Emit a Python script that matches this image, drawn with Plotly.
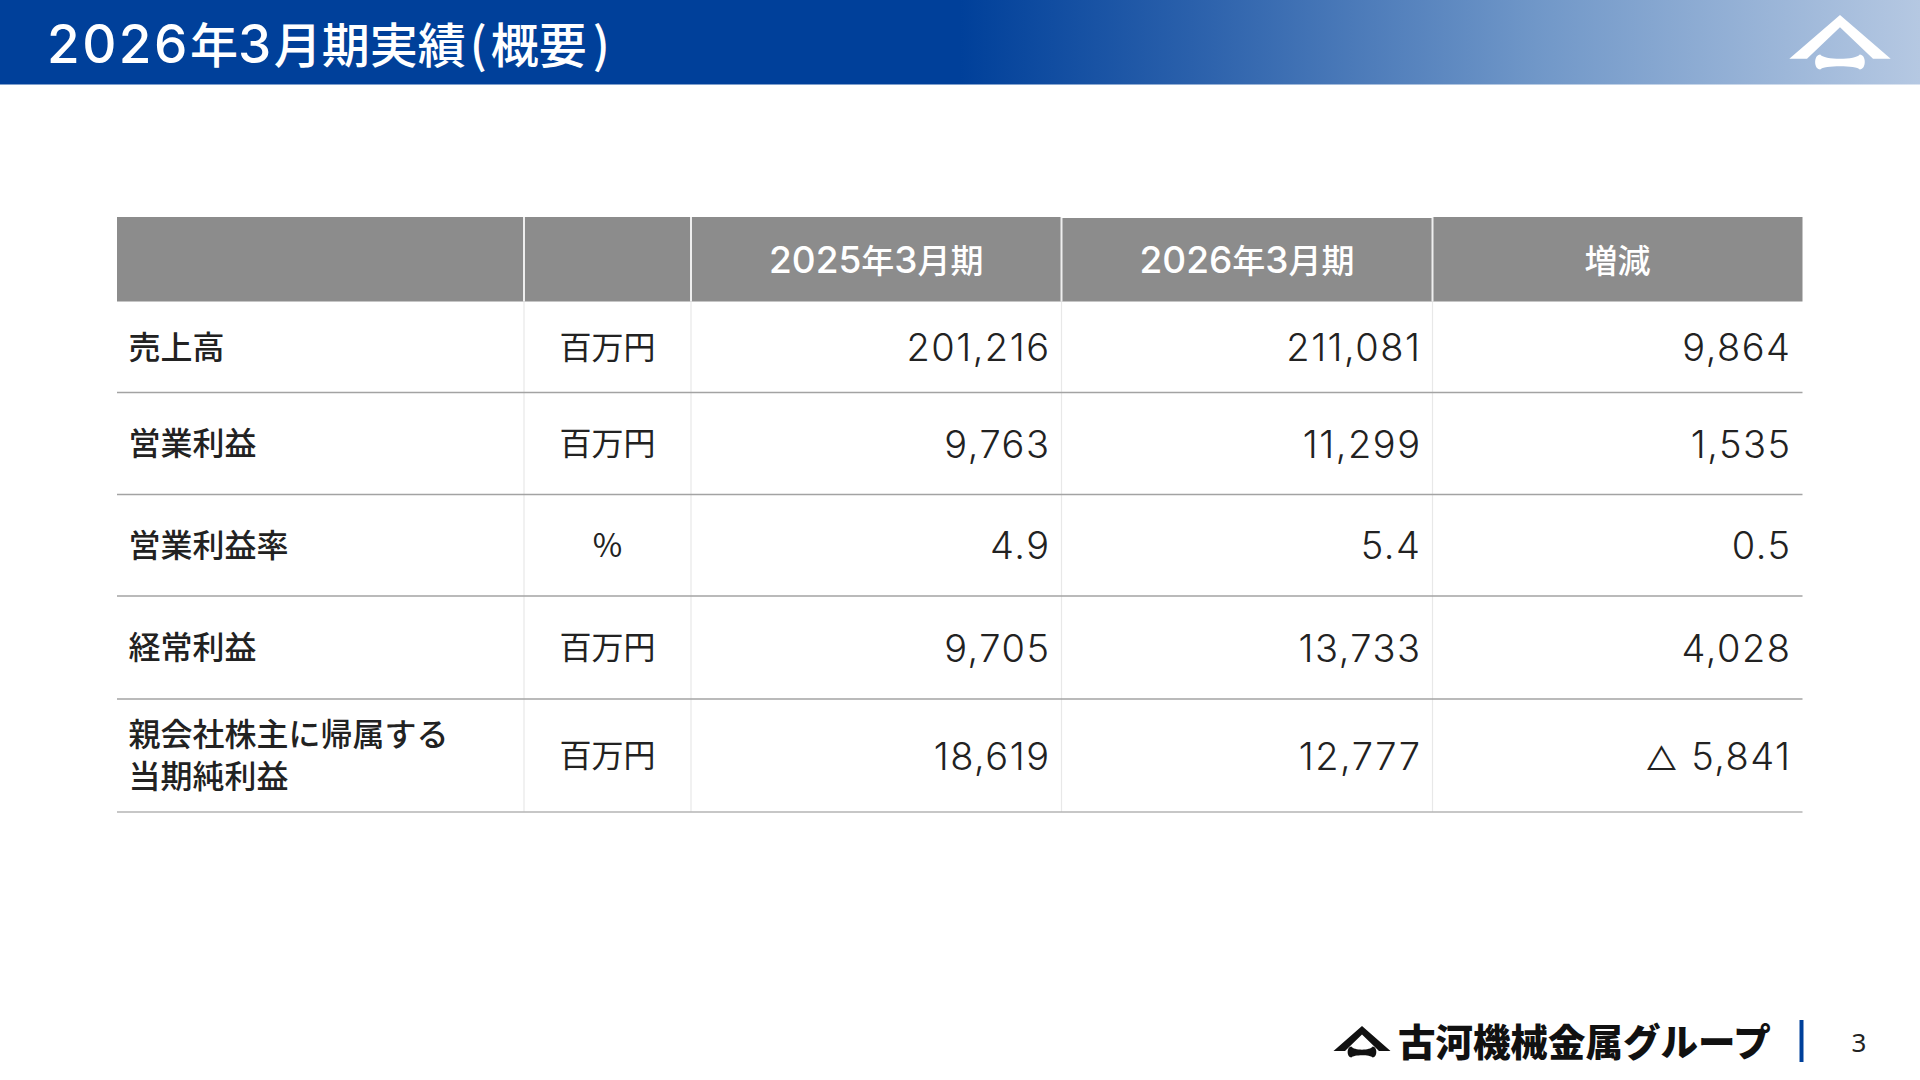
import re
import plotly.graph_objects as go

# ---- data ----
title = "2026年3月期実績(概要)"
columns = ["", "", "2025年3月期", "2026年3月期", "増減"]
items = ["売上高", "営業利益", "営業利益率", "経常利益", "親会社株主に帰属する<br>当期純利益"]
units = ["百万円", "百万円", "%", "百万円", "百万円"]
fy2025 = ["201,216", "9,763", "4.9", "9,705", "18,619"]
fy2026 = ["211,081", "11,299", "5.4", "13,733", "12,777"]
change = ["9,864", "1,535", "0.5", "4,028", "△ 5,841"]
brand = "古河機械金属グループ"
page_no = "3"

# ---- layout constants (pixels of the 1920x1080 slide) ----
COL = [117, 524, 691, 1061.5, 1432.5, 1802.5]
ROW = [217, 301.5, 392.5, 494.5, 596, 699, 812]
PAD = 11
NAVY = "#00409a"
INK = "#222222"
CJK = "Noto Sans CJK JP"
NUM = "Inter, Noto Sans CJK JP"
DY = 3.5

centers_y = [(ROW[i] + ROW[i + 1]) / 2 + DY for i in range(1, 6)]
header_y = (ROW[0] + ROW[1]) / 2 + 1.5 + DY
col_c = [(COL[i] + COL[i + 1]) / 2 for i in range(5)]


def wide_digits(s, px, spacing=0):
    """Slide digits are drawn larger than the kanji next to them."""
    style = f"font-family:Inter;font-size:{px}px;letter-spacing:{spacing}px"
    return re.sub(r"(\d+)", lambda m: f"<span style='{style}'>{m.group(1)}</span>", s)


def spaced(s, px):
    return f"<span style='letter-spacing:{px}px'>{s}</span>"


fig = go.Figure()

# title band with gradient
fig.add_trace(go.Scatter(
    x=[0, 1920, 1920, 0, 0], y=[0, 0, 84.5, 84.5, 0], mode="lines", line=dict(width=0),
    fill="toself", hoverinfo="skip",
    fillgradient=dict(type="horizontal", colorscale=[
        [0, NAVY], [0.5, NAVY], [0.62, "#2a60ab"], [0.8, "#7097c8"], [1, "#b5c8e2"]]),
))

shapes = []
def rect(x0, y0, x1, y1, fill):
    shapes.append(dict(type="rect", x0=x0, y0=y0, x1=x1, y1=y1, fillcolor=fill,
                       line=dict(width=0), layer="below"))
def line(x0, y0, x1, y1, color, w):
    shapes.append(dict(type="line", x0=x0, y0=y0, x1=x1, y1=y1, line=dict(color=color, width=w)))

# header cells
rect(COL[0], ROW[0], COL[5], ROW[1], "#8c8c8c")
for x in COL[1:5]:
    line(x, ROW[0], x, ROW[1], "#eeeeee", 2)
line(COL[3], ROW[0], COL[4], ROW[0], "#ffffff", 2)
# body grid
for x in COL[1:5]:
    line(x, ROW[1], x, ROW[6], "#e8e8e8", 1.2)
for y in ROW[2:6]:
    line(COL[0], y, COL[5], y, "#a3a3a3", 1.4)
line(COL[0], ROW[6], COL[5], ROW[6], "#b5b5b5", 1.6)

# logo marks
def roof(cx, top, base, half, inner_top, inner_half, bone_half, bone_top, bone_bot, color):
    shapes.append(dict(type="path", fillcolor=color, line=dict(width=0),
        path=f"M{cx},{top} L{cx+half},{base} L{cx+inner_half},{base} L{cx},{inner_top} "
             f"L{cx-inner_half},{base} L{cx-half},{base} Z"))
    m = (bone_top + bone_bot) / 2
    h = bone_bot - bone_top
    shapes.append(dict(type="path", fillcolor=color, line=dict(width=0),
        path=f"M{cx-bone_half+h*.35},{bone_top} "
             f"C{cx-bone_half+h*.55},{m-h*.12} {cx+bone_half-h*.55},{m-h*.12} {cx+bone_half-h*.35},{bone_top} "
             f"C{cx+bone_half+h*.1},{bone_top} {cx+bone_half+h*.1},{bone_bot} {cx+bone_half-h*.35},{bone_bot} "
             f"C{cx+bone_half-h*.55},{m+h*.22} {cx-bone_half+h*.55},{m+h*.22} {cx-bone_half+h*.35},{bone_bot} "
             f"C{cx-bone_half-h*.1},{bone_bot} {cx-bone_half-h*.1},{bone_top} {cx-bone_half+h*.35},{bone_top} Z"))

roof(1840, 15, 58.7, 50.7, 27.3, 33, 25, 54.5, 69.5, "#ffffff")
roof(1362, 1026, 1051, 28.5, 1034.5, 17, 14.5, 1046.5, 1057.5, "#111111")

# footer bar
rect(1799.5, 1020, 1803.5, 1062, NAVY)


def text_trace(xs, ys, texts, pos, size, color, family, weight=400):
    fig.add_trace(go.Scatter(
        x=xs, y=ys, text=texts, mode="text", textposition=pos, hoverinfo="skip",
        textfont=dict(size=size, color=color, family=family, weight=weight),
    ))


def value_markup(v):
    return spaced(v, 1.5).replace("△", "<span style='font-size:32px'>△</span>")


title_markup = (wide_digits(title, 53, 2.5)
                .replace("績", spaced("績", 4))
                .replace("(", spaced("(", 4))
                .replace("要", spaced("要", 6)))
text_trace([47], [50.5], [title_markup], "middle right", 48, "#ffffff", CJK, 500)
text_trace(col_c[2:], [header_y] * 3, [wide_digits(c, 37) for c in columns[2:]],
           "middle center", 33, "#ffffff", CJK, 500)
text_trace([COL[0] + 11.5] * 5, centers_y, items, "middle right", 32, INK, CJK, 500)
text_trace([col_c[1]] * 5, centers_y, units, "middle center", 32, INK, CJK, 400)
for i, vals in enumerate([fy2025, fy2026, change]):
    text_trace([COL[i + 3] - PAD] * 5, [y + 1 for y in centers_y], [value_markup(v) for v in vals],
               "middle left", 38, INK, NUM, 300)
text_trace([1398], [1047], [brand], "middle right", 37.5, "#111111", CJK, 900)
text_trace([1859], [1045], [page_no], "middle center", 26, INK, "Noto Sans, sans-serif", 400)

axis = dict(visible=False, fixedrange=True)
fig.update_layout(
    width=1920, height=1080, margin=dict(l=0, r=0, t=0, b=0),
    paper_bgcolor="#ffffff", plot_bgcolor="#ffffff", showlegend=False,
    xaxis=dict(range=[0, 1920], **axis),
    yaxis=dict(range=[1080, 0], **axis),
    shapes=shapes,
)
fig.write_html("out.html", config={"displayModeBar": False},
               post_script="document.body.style.margin='0';document.documentElement.style.overflow='hidden';")
